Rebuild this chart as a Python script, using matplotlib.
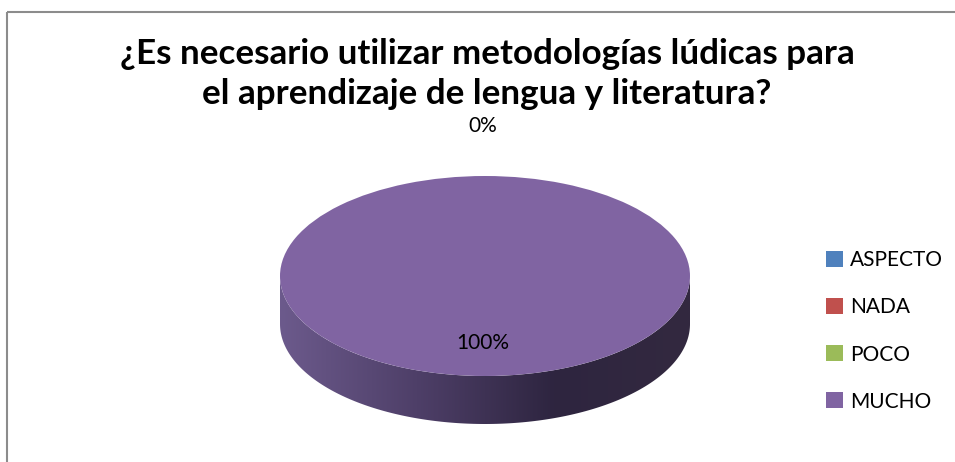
import matplotlib.pyplot as plt
import numpy as np
from matplotlib.transforms import Affine2D
from matplotlib.patches import Polygon, Patch
from matplotlib.colors import LinearSegmentedColormap

# Data
categories = ['ASPECTO', 'NADA', 'POCO', 'MUCHO']
values = [0, 0, 0, 100]
colors = ['#4f81bd', '#c0504d', '#9bbb59', '#8064a2']
title = '¿Es necesario utilizar metodologías lúdicas para\nel aprendizaje de lengua y literatura?'

W, H = 955, 462
fig = plt.figure(figsize=(W / 100, H / 100), dpi=100)
ax = fig.add_axes([0, 0, 1, 1])

# ellipse geometry (pixels, y up)
cx, cy = 485, H - 276
rx, ry = 205, 100
depth = 48

# side of the cylinder, gradient clipped to the front half
t = np.linspace(np.pi, 2 * np.pi, 200)
top_edge = np.column_stack([cx + rx * np.cos(t), cy + ry * np.sin(t)])
bot_edge = top_edge[::-1] - [0, depth]
side = Polygon(np.vstack([top_edge, bot_edge]), closed=True, facecolor='none', edgecolor='none')
ax.add_patch(side)
grad = np.linspace(0, 1, 256)[None, :]
cmap = LinearSegmentedColormap.from_list('side', ['#6c5a8c', '#4e3f68', '#2e2540', '#33293f'])
im = ax.imshow(grad, extent=[cx - rx, cx + rx, cy - ry - depth, cy], cmap=cmap,
               aspect='auto', zorder=1)
im.set_clip_path(side)

# top face
wedges, _ = ax.pie(values, colors=colors, startangle=90, counterclock=False,
                   wedgeprops=dict(linewidth=0))
tr = Affine2D().scale(rx, ry).translate(cx, cy) + ax.transData
for w in wedges:
    w.set_transform(tr)
    w.set_zorder(2)

ax.set_xlim(0, W)
ax.set_ylim(0, H)
ax.set_aspect('auto')
ax.axis('off')

# percent labels
ax.text(483, H - 126, f'{values[0]}%', ha='center', va='center', fontsize=15, fontfamily='Lato', zorder=5)
ax.text(483, H - 343, f'{values[3]}%', ha='center', va='center', fontsize=15, fontfamily='Lato', zorder=5)

# title
ax.text(487, H - 74, title, ha='center', va='center', fontsize=25.2, fontweight='bold',
        fontfamily='Lato', linespacing=1.3, zorder=4)

# frame (only top and left visible)
ax.plot([7, W], [H - 11.5, H - 11.5], color='#8c8c8c', lw=1.5, solid_capstyle='butt')
ax.plot([7, 7], [H - 11.5, 0], color='#8c8c8c', lw=1.5, solid_capstyle='butt')

handles = [Patch(facecolor=c, edgecolor='none') for c in colors]
leg = fig.legend(handles, categories, loc='upper left', bbox_to_anchor=(816 / W, 1 - 240 / H),
                 frameon=False, handlelength=0.8, handleheight=0.8, handletextpad=0.35,
                 labelspacing=1.3, borderpad=0, prop=dict(family='Lato', size=15))

fig.savefig('out.png', dpi=100)
